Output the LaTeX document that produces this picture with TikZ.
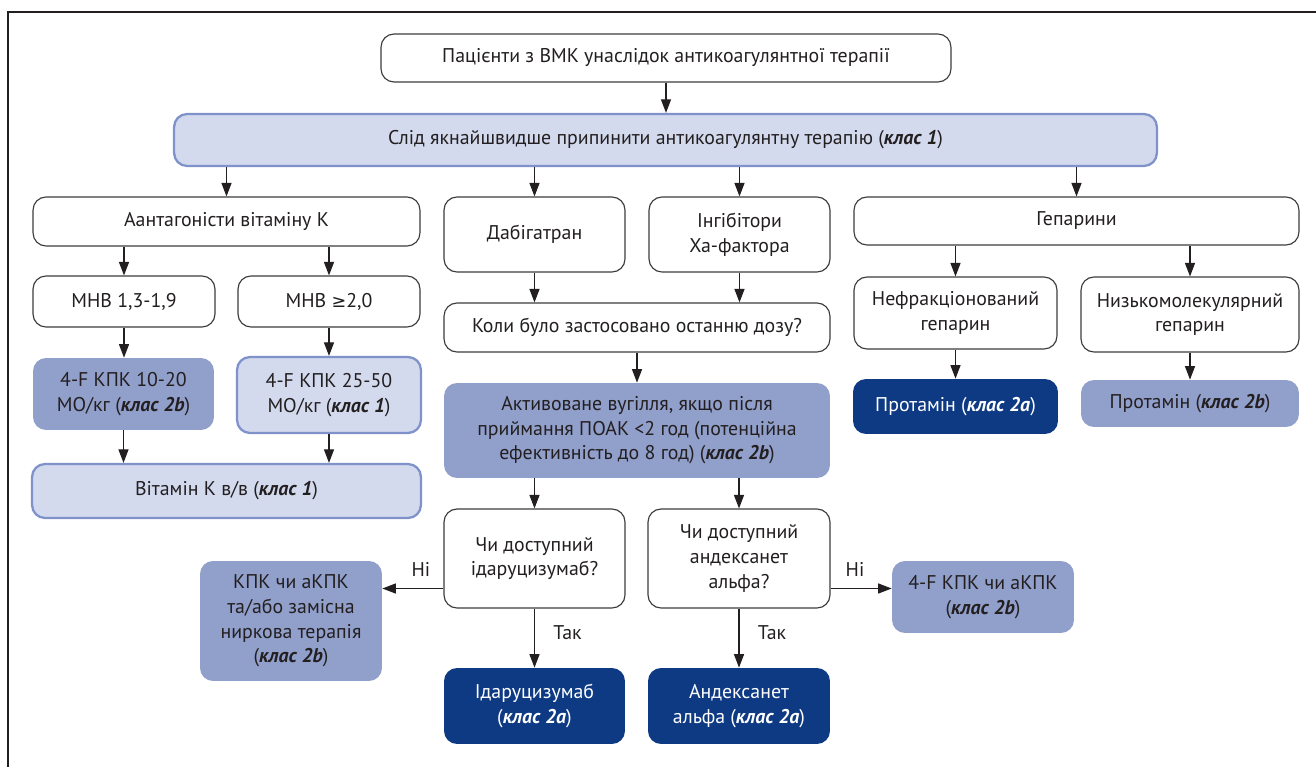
\documentclass[tikz,border=0pt]{standalone}
\usepackage{fontspec}
\setmainfont{PT Sans}
\newfontfamily\symfont{DejaVu Sans}
\usetikzlibrary{arrows.meta, positioning, calc}
\definecolor{lightfill}{HTML}{D3DAEE}
\definecolor{lightline}{HTML}{7F92CA}
\definecolor{midfill}{HTML}{919FCB}
\definecolor{navy}{HTML}{0E3A84}
\definecolor{boxline}{HTML}{3C3C3C}
\definecolor{ink}{HTML}{231F20}
\newcommand{\klas}[1]{(\textbf{\textit{клас #1}})}
\tikzset{
    box/.style={rounded corners=0.26cm, align=center, inner sep=2pt, text=ink,
        font=\fontsize{11.3}{14}\selectfont},
    wbox/.style={box, draw=boxline, fill=white, line width=0.65pt},
    lbox/.style={box, draw=lightline, fill=lightfill, line width=1.3pt},
    mbox/.style={box, fill=midfill},
    nbox/.style={box, fill=navy, text=white},
    link/.style={-{Triangle[length=0.27cm, width=0.2cm]}, line width=0.7pt, draw=ink},
    lbl/.style={text=ink, font=\fontsize{11.3}{14}\selectfont}
}

\begin{document}
\begin{tikzpicture}[x=0.02cm, y=-0.02cm]
    \useasboundingbox (0,0) rectangle (1316,767);
    \draw[line width=0.8pt, ink] (1316,12) -- (8,12) -- (8,767);

    % top of the chart
    \node[wbox, minimum width=11.4cm, minimum height=0.96cm] (top) at (666,58)
        {Пацієнти з ВМК унаслідок антикоагулянтної терапії};
    \node[lbox, minimum width=19.66cm, minimum height=1.04cm] (stop) at (665.5,140)
        {Слід якнайшвидше припинити антикоагулянтну терапію \klas{1}};

    % drug groups
    \node[wbox, minimum width=7.74cm, minimum height=0.98cm] (avk) at (226.5,221.5)
        {Аантагоністи вітаміну К};
    \node[wbox, minimum width=3.62cm, minimum height=1.5cm] (dabi) at (534.5,234.5)
        {Дабігатран};
    \node[wbox, minimum width=3.62cm, minimum height=1.5cm] (xa) at (739.5,234.5)
        {Інгібітори\\Xa-фактора};
    \node[wbox, minimum width=8.9cm, minimum height=0.96cm] (hep) at (1076.5,221)
        {Гепарини};

    % vitamin K antagonists
    \node[wbox, minimum width=3.64cm, minimum height=1.02cm] (mhb1) at (124,301.5)
        {МНВ 1,3-1,9};
    \node[wbox, minimum width=3.64cm, minimum height=1.02cm] (mhb2) at (329,301.5)
        {МНВ {\symfont\fontsize{10}{12}\selectfont ≥}2,0};
    \node[mbox, minimum width=3.62cm, minimum height=1.44cm] (kpk1) at (123.5,394)
        {4-F КПК 10-20\\МО/кг \klas{2b}};
    \node[lbox, minimum width=3.68cm, minimum height=1.52cm] (kpk2) at (329,395)
        {4-F КПК 25-50\\МО/кг \klas{1}};
    \node[lbox, minimum width=7.78cm, minimum height=1.08cm] (vitk) at (226.5,491)
        {Вітамін К в/в \klas{1}};

    % oral anticoagulants
    \node[wbox, minimum width=7.72cm, minimum height=0.98cm] (koly) at (637,327.5)
        {Коли було застосовано останню дозу?};
    \node[mbox, minimum width=7.72cm, minimum height=1.9cm] (act) at (637,430.5)
        {Активоване вугілля, якщо після\\приймання ПОАК <2 год (потенційна\\ефективність до 8 год) \klas{2b}};
    \node[wbox, minimum width=3.62cm, minimum height=1.98cm] (q1) at (534.5,558.5)
        {Чи доступний\\ідаруцизумаб?};
    \node[wbox, minimum width=3.64cm, minimum height=1.98cm] (q2) at (739,558.5)
        {Чи доступний\\андексанет\\альфа?};
    \node[mbox, minimum width=3.64cm, minimum height=2.4cm] (kpk3) at (291,621)
        {КПК чи аКПК\\та/або замісна\\ниркова терапія\\\klas{2b}};
    \node[mbox, minimum width=3.64cm, minimum height=1.44cm] (f4) at (983,597)
        {4-F КПК чи аКПК\\\klas{2b}};
    \node[nbox, minimum width=3.62cm, minimum height=1.52cm] (idaru) at (534.5,706)
        {Ідаруцизумаб\\\klas{2a}};
    \node[nbox, minimum width=3.64cm, minimum height=1.52cm] (andex) at (739,706)
        {Андексанет\\альфа \klas{2a}};

    % heparins
    \node[wbox, minimum width=4.06cm, minimum height=1.44cm] (nfg) at (955.5,313)
        {Нефракціонований\\гепарин};
    \node[wbox, minimum width=4.36cm, minimum height=1.5cm] (nmg) at (1190,314.5)
        {Низькомолекулярний\\гепарин};
    \node[nbox, minimum width=4.1cm, minimum height=1.1cm] (prot1) at (955.5,406.5)
        {Протамін \klas{2a}};
    \node[mbox, minimum width=4.36cm, minimum height=0.94cm] (prot2) at (1190,403.5)
        {Протамін \klas{2b}};

    % arrows
    \draw[link] (top.south) -- (top.south |- stop.north);
    \draw[link] (stop.south -| avk) -- (avk.north);
    \draw[link] (stop.south -| dabi) -- (dabi.north);
    \draw[link] (stop.south -| xa) -- (xa.north);
    \draw[link] (stop.south -| hep) -- (hep.north);
    \draw[link] (avk.south -| mhb1) -- (mhb1.north);
    \draw[link] (avk.south -| mhb2) -- (mhb2.north);
    \draw[link] (mhb1.south) -- (mhb1.south |- kpk1.north);
    \draw[link] (mhb2.south) -- (mhb2.south |- kpk2.north);
    \draw[link] (kpk1.south) -- (kpk1.south |- vitk.north);
    \draw[link] (kpk2.south) -- (kpk2.south |- vitk.north);
    \draw[link] (dabi.south) -- (dabi.south |- koly.north);
    \draw[link] (xa.south) -- (xa.south |- koly.north);
    \draw[link] (koly.south) -- (koly.south |- act.north);
    \draw[link] (act.south -| q1) -- (q1.north);
    \draw[link] (act.south -| q2) -- (q2.north);
    \draw[link] (q1.south) -- (q1.south |- idaru.north)
        node[lbl, pos=0.4, right=0.25cm] {Так};
    \draw[link] (q2.south) -- (q2.south |- andex.north)
        node[lbl, pos=0.4, right=0.25cm] {Так};
    \coordinate (noL) at ($(q1.west)+(0,30)$);
    \coordinate (noR) at ($(q2.east)+(0,30)$);
    \draw[link] (noL) -- (noL -| kpk3.east) node[lbl, pos=0.37, above=3pt] {Ні};
    \draw[link] (noR) -- (noR -| f4.west) node[lbl, pos=0.4, above=3pt] {Ні};
    \draw[link] (hep.south -| nfg) -- (nfg.north);
    \draw[link] (hep.south -| nmg) -- (nmg.north);
    \draw[link] (nfg.south) -- (nfg.south |- prot1.north);
    \draw[link] (nmg.south) -- (nmg.south |- prot2.north);
\end{tikzpicture}
\end{document}
